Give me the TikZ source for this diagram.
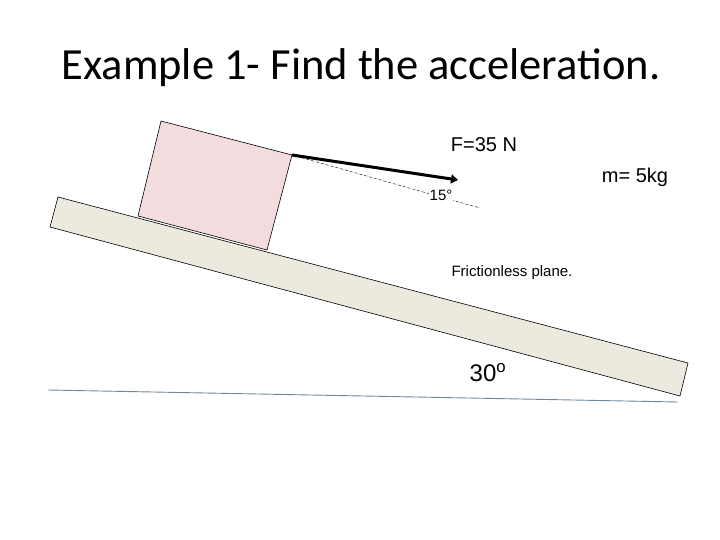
\documentclass[tikz,border=0pt]{standalone}
\usepackage{fontspec}
\setsansfont{Liberation Sans}
\newfontfamily\calib{Carlito}
\usetikzlibrary{arrows.meta}
\begin{document}
\begin{tikzpicture}[x=1pt,y=-1pt,lbl/.style={font=\sffamily\fontsize{15}{17}\selectfont,inner sep=0pt}]
\useasboundingbox (0,0) rectangle (720,540);
\node[font=\calib\fontsize{44.5}{50}\selectfont] (title) at (361,68) {Example 1- Find the acceleration.};
\draw[fill={rgb,255:red,236;green,233;blue,223},line width=0.6pt] (58,197) -- (688,363) -- (680,396) -- (50,227) -- cycle;
\draw[fill={rgb,255:red,242;green,220;blue,221},line width=0.6pt] (161,121) coordinate (b1) -- (292,155) coordinate (b2) -- (267,250) -- (138,216) -- cycle;
\coordinate (dend) at (480,208);
\coordinate (aend) at (458,180);
\draw[dashed,line width=0.4pt,dash pattern=on 3pt off 2pt] (b2) -- (dend);
\draw[line width=3pt,-{Triangle[length=7pt,width=9pt]}] (b2) -- (aend);
\draw[color={rgb,255:red,110;green,135;blue,155},line width=0.9pt] (48,390) -- (678,402);
\node[lbl,font=\sffamily\fontsize{20}{22}\selectfont] (f) at (484,145) {F=35 N};
\node[lbl,font=\sffamily\fontsize{20}{22}\selectfont] (m) at (635,177) {m= 5kg};
\node[lbl,fill=white,inner sep=0.5pt] (ang) at (441,195) {15°};
\node[lbl] (fr) at (512,273) {Frictionless plane.};
\node[lbl,font=\sffamily\fontsize{24}{26}\selectfont] (t) at (488,373) {30\textsuperscript{o}};
\end{tikzpicture}
\end{document}
